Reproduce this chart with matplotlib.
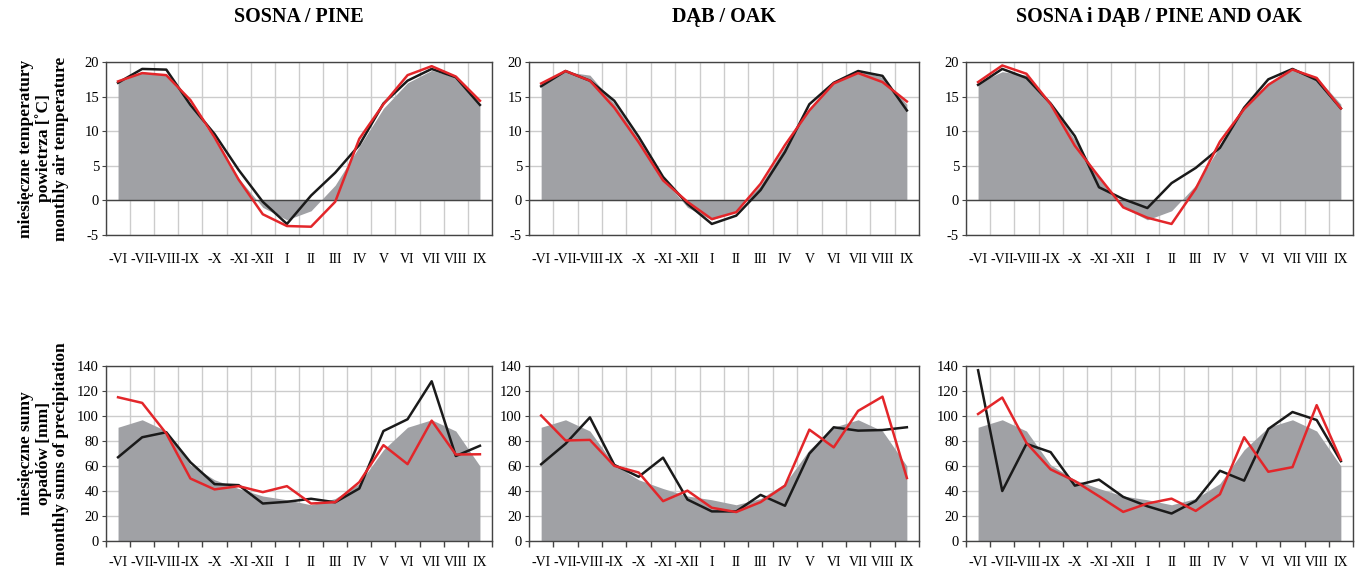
import numpy as np
import matplotlib
matplotlib.use('Agg')
import matplotlib.pyplot as plt

plt.rcParams['font.family'] = ['Liberation Serif', 'DejaVu Serif']

# months from previous June to current September
months = ['-VI', '-VII', '-VIII', '-IX', '-X', '-XI', '-XII',
          'I', 'II', 'III', 'IV', 'V', 'VI', 'VII', 'VIII', 'IX']
titles = ['SOSNA / PINE', 'DĄB / OAK', 'SOSNA i DĄB / PINE AND OAK']

# long-term means (grey area)
tempMean = [17.0, 18.6, 18.1, 14.0, 8.8, 3.2, -1.0, -2.8, -1.5, 2.2, 7.8, 13.3, 17.0, 18.8, 17.8, 13.9]
precMean = [91, 97, 88, 61, 49, 42, 36, 33, 29, 34, 46, 73, 91, 97, 88, 60]

# temperature, black and red series per panel
tempBlack = [
    [17.0, 19.0, 18.9, 13.8, 9.6, 4.4, -0.2, -3.4, 0.7, 4.0, 8.0, 14.0, 17.3, 19.0, 17.8, 13.8],
    [16.5, 18.7, 17.3, 14.4, 9.2, 3.4, -0.5, -3.4, -2.2, 1.5, 7.0, 13.9, 17.0, 18.7, 18.0, 13.0],
    [16.7, 19.0, 17.7, 14.0, 9.3, 1.9, 0.2, -1.1, 2.5, 4.7, 7.6, 13.4, 17.5, 19.0, 17.4, 13.3],
]
tempRed = [
    [17.2, 18.4, 18.1, 14.5, 9.1, 3.0, -2.0, -3.7, -3.8, -0.2, 8.9, 13.9, 18.1, 19.4, 17.9, 14.4],
    [16.9, 18.7, 17.3, 13.4, 8.4, 2.9, -0.2, -2.7, -1.7, 2.4, 8.0, 13.0, 16.9, 18.4, 17.1, 14.3],
    [17.1, 19.5, 18.3, 13.9, 7.9, 3.4, -1.0, -2.5, -3.4, 1.7, 8.5, 13.2, 16.7, 18.9, 17.7, 13.3],
]

# precipitation, black and red series per panel
precBlack = [
    [67, 83, 87, 63, 45.5, 44.7, 30, 31.4, 33.8, 31, 42, 88, 97.4, 127.8, 68, 76.2],
    [61.4, 77.8, 98.9, 60.9, 51.4, 66.7, 33.2, 23.7, 23.7, 36.9, 28.2, 69.9, 91, 88.3, 88.8, 91],
    [136.6, 40, 77.7, 71.1, 44.3, 49.1, 35.3, 27.8, 22, 32.1, 56.2, 48.3, 89.6, 103.2, 96.8, 63.9],
]
precRed = [
    [115, 110.5, 86, 50, 41.3, 43.9, 39.1, 43.9, 30, 31.1, 47.1, 76.7, 61.5, 96.3, 69.2, 69.4],
    [100.4, 80.4, 80.9, 60.1, 54.8, 31.9, 40.3, 26.6, 23.2, 31.1, 44.3, 89.1, 74.9, 104.1, 115.5, 50.4],
    [101.6, 114.8, 78.5, 57.3, 48, 35.8, 23.3, 30, 33.9, 24.1, 37.4, 83, 55.4, 59.1, 108.7, 65],
]

greyFill = '#a0a1a5'
black = '#1a1a1a'
red = '#e3262a'
gridCol = '#cccccc'
spineCol = '#444444'

fig = plt.figure(figsize=(13.64, 5.71), dpi=100)
lefts = [0.0777, 0.3878, 0.7082]
widths = [0.283, 0.286, 0.2837]
x = np.arange(len(months))


def style_axes(ax, ylim, yticks, zeroLine):
    ax.set_xlim(-0.5, len(months) - 0.5)
    ax.set_ylim(*ylim)
    ax.set_yticks(yticks)
    ax.set_yticklabels([str(v) for v in yticks], fontsize=10.5)
    ax.set_xticks(x)
    ax.set_xticklabels(months, fontsize=10)
    # vertical grid on category boundaries
    ax.set_xticks(np.arange(len(months) + 1) - 0.5, minor=True)
    ax.grid(True, axis='y', which='major', color=gridCol, lw=1, zorder=0)
    ax.grid(True, axis='x', which='minor', color=gridCol, lw=1, zorder=0)
    ax.tick_params(axis='x', which='major', length=0, pad=13)
    if zeroLine:
        ax.tick_params(axis='x', which='minor', length=0)
        ax.axhline(0, color=spineCol, lw=1, zorder=3)
    else:
        ax.tick_params(axis='x', which='minor', length=4, color=spineCol, width=1)
    ax.tick_params(axis='y', length=3, color=spineCol, pad=2)
    for s in ax.spines.values():
        s.set_color(spineCol)
        s.set_linewidth(1)
    ax.set_axisbelow(True)


for i in range(3):
    # temperature row
    ax = fig.add_axes([lefts[i], 0.5884, widths[i], 0.303])
    ax.fill_between(x, 0, tempMean, color=greyFill, lw=0, zorder=2)
    ax.plot(x, tempBlack[i], color=black, lw=1.8, zorder=4)
    ax.plot(x, tempRed[i], color=red, lw=1.8, zorder=5)
    style_axes(ax, (-5, 20), [-5, 0, 5, 10, 15, 20], True)
    ax.set_title(titles[i], fontsize=14.5, fontweight='bold', pad=29)
    if i == 0:
        ax.set_ylabel('miesięczne temperatury\npowietrza [˚C]\nmonthly air temperature',
                      fontsize=12.5, fontweight='bold', linespacing=1.1, labelpad=11)

    # precipitation row
    ax = fig.add_axes([lefts[i], 0.0525, widths[i], 0.3065])
    ax.fill_between(x, 0, precMean, color=greyFill, lw=0, zorder=2)
    ax.plot(x, precBlack[i], color=black, lw=1.8, zorder=4)
    ax.plot(x, precRed[i], color=red, lw=1.8, zorder=5)
    style_axes(ax, (0, 140), list(range(0, 141, 20)), False)
    ax.tick_params(axis='x', which='major', pad=11)
    if i == 0:
        ax.set_ylabel('miesięczne sumy\nopadów [mm]\nmonthly sums of precipitation',
                      fontsize=12.5, fontweight='bold', linespacing=1.1, labelpad=6)

fig.savefig('out.png', dpi=100)
